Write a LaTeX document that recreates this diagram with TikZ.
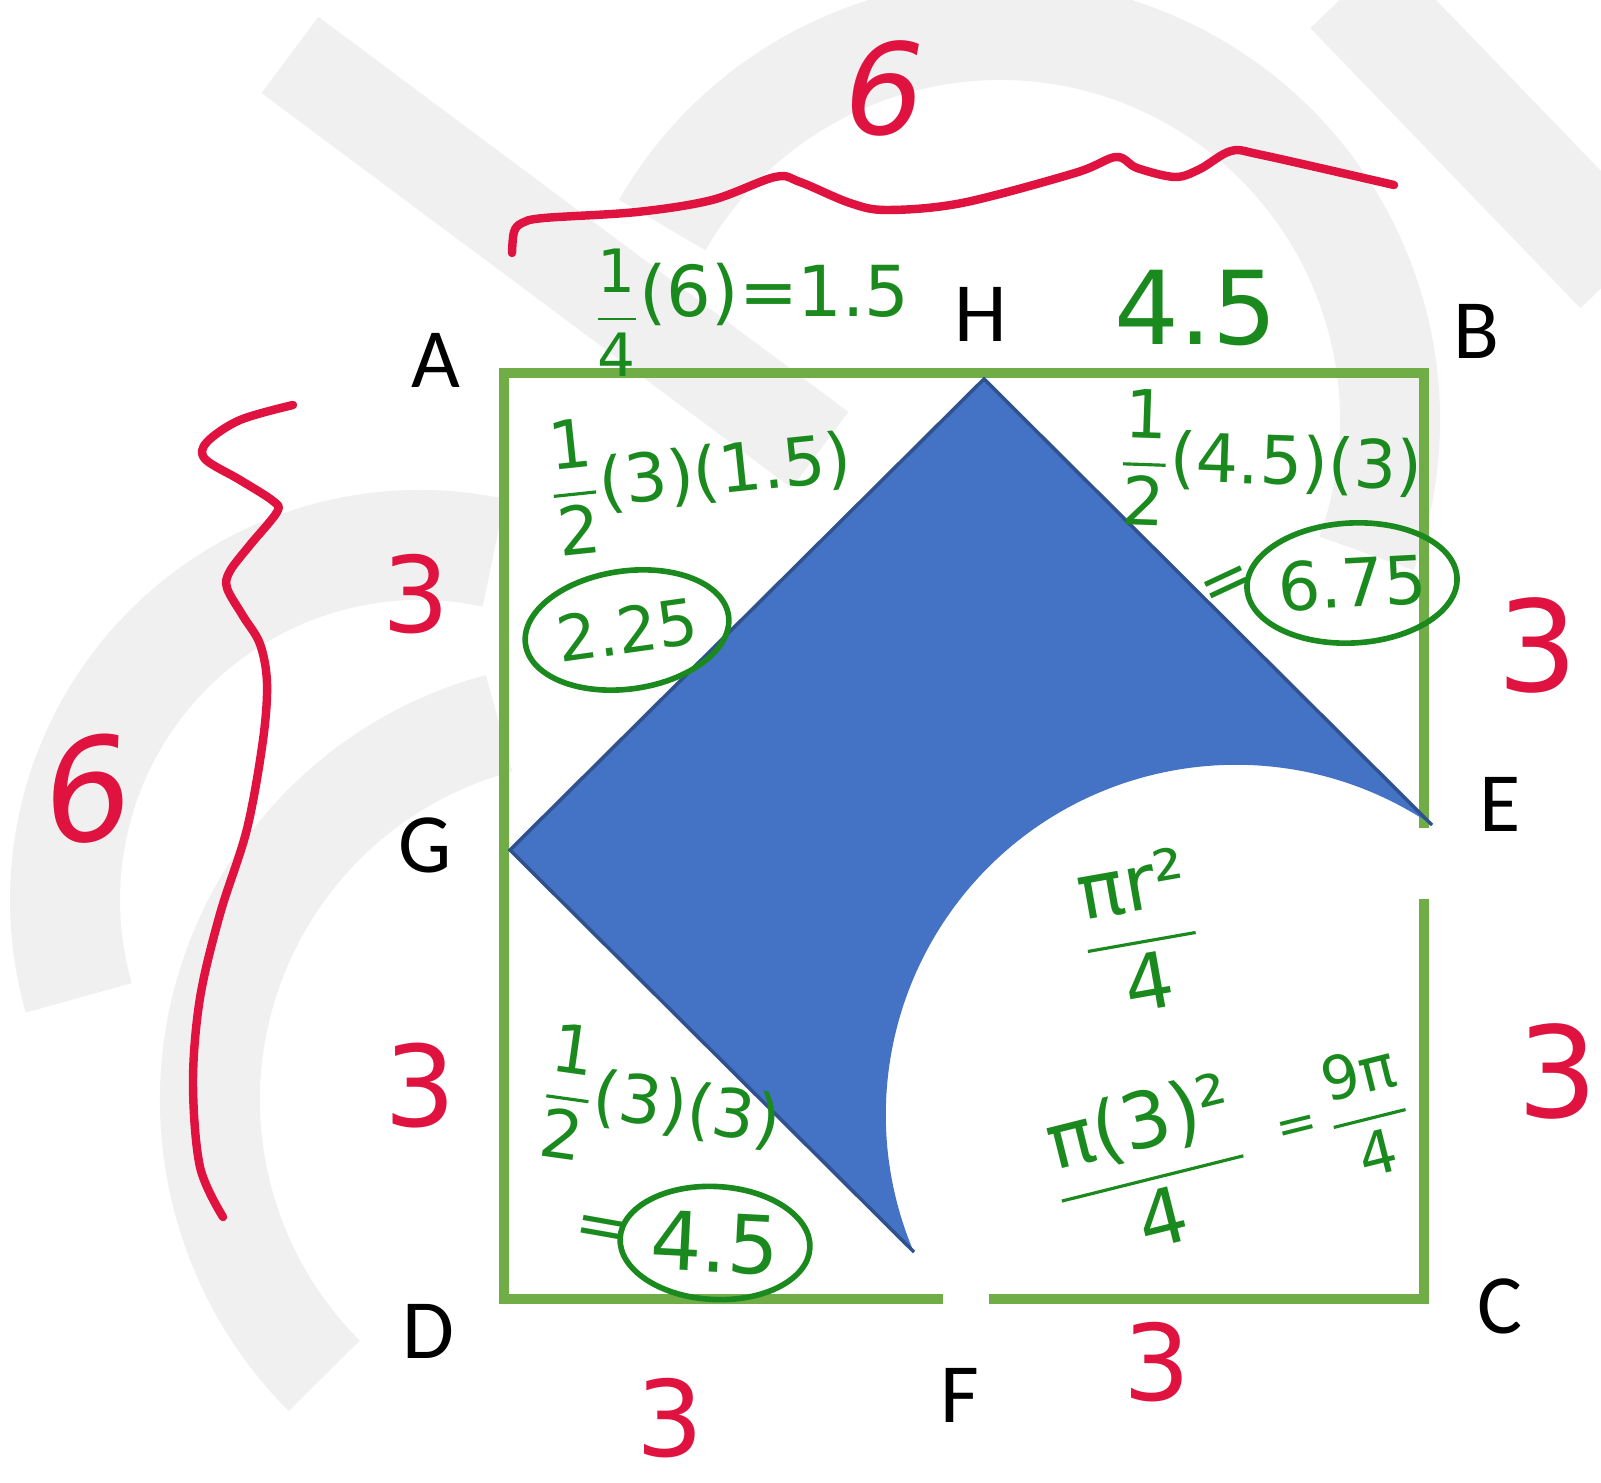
\documentclass[tikz,border=0pt]{standalone}
\usepackage{amsmath}
\usepackage{fontspec}
\setmainfont{Carlito}
\newfontfamily\inkfont{DejaVu Sans}
\usetikzlibrary{shapes.geometric}
\definecolor{framegreen}{HTML}{70AD47}
\definecolor{areablue}{HTML}{4472C4}
\definecolor{edgeblue}{HTML}{2F528F}
\definecolor{inkgreen}{HTML}{1B8A1E}
\definecolor{inkred}{HTML}{E0123F}
\definecolor{markgray}{HTML}{F0F0F0}
\newcommand{\hf}[2]{\genfrac{}{}{0.9pt}{0}{\text{#1}}{\text{#2}}}

\begin{document}
\begin{tikzpicture}[
    x=0.1mm, y=-0.1mm,
    ptlabel/.style={font=\fontsize{24}{28}\selectfont, inner sep=0pt},
    ink/.style={text=inkgreen, font=\inkfont\fontsize{#1}{#1}\selectfont, inner sep=0pt},
    ink/.default=19,
    ring/.style={ink=#1, draw=inkgreen, line width=1.6pt, ellipse},
    ring/.default=19,
    redink/.style={text=inkred, font=\inkfont\fontsize{#1}{#1}\selectfont, inner sep=0pt},
    redink/.default=32,
    redline/.style={draw=inkred, line width=2.4pt, line cap=round, line join=round},
    squareline/.style={draw=framegreen, line width=1mm, line join=miter},
    wmband/.style={draw=markgray, line width=#1}
]
\useasboundingbox (0,0) rectangle (1601,1483);
\fill[white] (0,0) rectangle (1601,1483);

% Watermark
\draw[wmband=9.5mm] (290,55) -- (820,450);
\draw[wmband=10mm] (1000,420) ++(-150:390) arc[start angle=-150, end angle=20, radius=390];
\draw[wmband=11mm] (1350,-10) -- (1620,270);
\draw[wmband=11mm] (420,900) ++(-78:355) arc[start angle=-78, end angle=-196, radius=355];
\draw[wmband=10mm] (600,1100) ++(-105:390) arc[start angle=-105, end angle=-225, radius=390];

% Square
\coordinate (a) at (504,373);
\coordinate (b) at (1424,373);
\coordinate (c) at (1424,1299);
\coordinate (d) at (504,1299);
\coordinate (e1) at (1424,828);
\coordinate (e2) at (1424,899);
\coordinate (f1) at (943,1299);
\coordinate (f2) at (989,1299);
\draw[squareline] (e1) -- (b) -- (a) -- (d) -- (f1);
\draw[squareline] (f2) -- (c) -- (e2);

% Shaded region
\coordinate (g) at (510,850);
\coordinate (h) at (984,379);
\coordinate (e) at (1432,825);
\coordinate (f) at (914,1252);
\fill[areablue] (g) -- (h) -- (e) arc[start angle=-55.9, end angle=-203.1, radius=350] -- cycle;
\draw[edgeblue, line width=0.35mm] (e) -- (h) -- (g) -- (f);

% Points
\node[ptlabel] (lA) at (436,360) {A};
\node[ptlabel] (lH) at (981,314) {H};
\node[ptlabel] (lB) at (1476,331) {B};
\node[ptlabel] (lG) at (425,845) {G};
\node[ptlabel] (lE) at (1500,804) {E};
\node[ptlabel] (lD) at (428,1331) {D};
\node[ptlabel] (lC) at (1500,1306) {C};
\node[ptlabel] (lF) at (960,1395) {F};

% Green working
\node[ink=20] (q1) at (752,313) {\raisebox{-0.25em}{\scalebox{0.85}{$\hf14$}}(6)=1.5};
\node[ink=29] (q2) at (1196,308) {4.5};
\node[ink=19, rotate=6] (t1) at (700,474) {$\hf12$(3)(1.5)};
\node[ring=18, minimum width=20.5mm, minimum height=11.8mm, rotate=8] (v1) at (627,630) {2.25};
\node[ink=19, rotate=-2] (t2) at (1271,462) {$\hf12$(4.5)(3)};
\node[ink=18, rotate=25] (eq2) at (1228,587) {=};
\node[ring=19, minimum width=16.3mm, minimum height=12mm, rotate=3] (v2) at (1352,583) {6.75};
\node[ink=22, rotate=10] (t3) at (1140,932) {$\hf{πr²}{4}$};
\node[ink=19, rotate=-8] (t4) at (662,1105) {$\hf12$(3)(3)};
\node[ink=18, rotate=-10] (eq4) at (601,1233) {=};
\node[ring=23, minimum width=19mm, minimum height=11.3mm, rotate=-3] (v4) at (715,1243) {4.5};
\node[ink=22, rotate=14] (t5) at (1150,1168) {$\hf{π(3)²}{4}$};
\node[ink=14, rotate=14] (eq5) at (1298,1130) {=};
\node[ink=17, rotate=14] (t6) at (1368,1112) {$\hf{9π}{4}$};

% Red lengths
\node[redink=36] (six1) at (885,88) {\itshape 6};
\node[redink=40, rotate=8] (six2) at (88,790) {\itshape 6};
\node[redink=30] (th1) at (416,594) {3};
\node[redink=32] (th2) at (420,1086) {3};
\node[redink=36] (th3) at (1538,645) {3};
\node[redink=36] (th4) at (1558,1071) {3};
\node[redink=30] (th5) at (670,1418) {3};
\node[redink=30] (th6) at (1157,1362) {3};

% Braces
\draw[redline] plot[smooth, tension=0.55] coordinates {(512,253) (514,232) (522,223) (544,218) (637,212) (712,200) (775,177) (800,182) (850,203) (887,210) (962,203) (1075,173) (1116,157) (1137,168) (1175,177) (1200,169) (1231,151) (1262,155) (1394,185)};
\draw[redline] plot[smooth, tension=0.55] coordinates {(293,405) (240,420) (207,442) (205,459) (240,480) (273,501) (277,512) (250,545) (230,571) (227,588) (243,616) (260,644) (267,683) (263,740) (247,829) (220,914) (200,998) (193,1082) (200,1167) (223,1217)};

\end{tikzpicture}
\end{document}
